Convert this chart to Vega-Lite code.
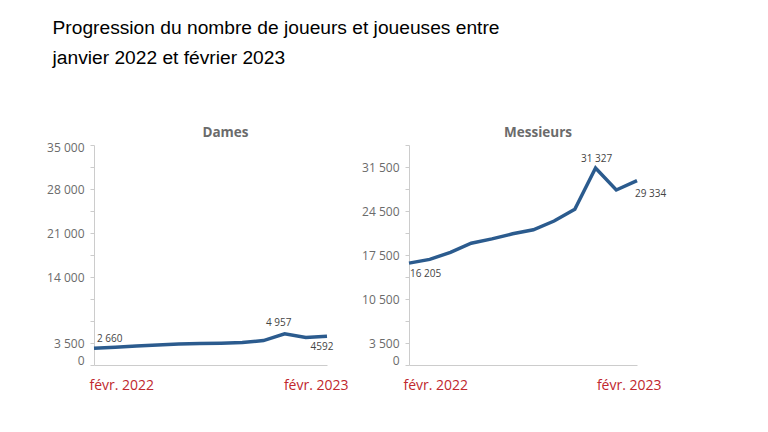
{
  "$schema": "https://vega.github.io/schema/vega-lite/v6.json",
  "background": "white",
  "padding": {"left": 46, "top": 18, "right": 5, "bottom": 5},
  "title": {
    "text": ["Progression du nombre de joueurs et joueuses entre", "janvier 2022 et février 2023"],
    "anchor": "start",
    "frame": "bounds",
    "font": "Liberation Sans",
    "fontSize": 19.2,
    "fontWeight": "normal",
    "color": "#000000",
    "lineHeight": 30,
    "offset": 58,
    "dx": 6
  },
  "datasets": {
    "d": [
      {"serie": "Dames", "m": 0, "mois": "févr. 2022", "joueurs": 2660, "label": "2 660"},
      {"serie": "Dames", "m": 1, "mois": "mars 2022", "joueurs": 2830},
      {"serie": "Dames", "m": 2, "mois": "avr. 2022", "joueurs": 3040},
      {"serie": "Dames", "m": 3, "mois": "mai 2022", "joueurs": 3200},
      {"serie": "Dames", "m": 4, "mois": "juin 2022", "joueurs": 3360},
      {"serie": "Dames", "m": 5, "mois": "juil. 2022", "joueurs": 3410},
      {"serie": "Dames", "m": 6, "mois": "août 2022", "joueurs": 3460},
      {"serie": "Dames", "m": 7, "mois": "sept. 2022", "joueurs": 3570},
      {"serie": "Dames", "m": 8, "mois": "oct. 2022", "joueurs": 3890},
      {"serie": "Dames", "m": 9, "mois": "nov. 2022", "joueurs": 4957, "label": "4 957"},
      {"serie": "Dames", "m": 10, "mois": "déc. 2022", "joueurs": 4360},
      {"serie": "Dames", "m": 11, "mois": "févr. 2023", "joueurs": 4592, "label": "4592"},
      {"serie": "Messieurs", "m": 0, "mois": "févr. 2022", "joueurs": 16205, "label": "16 205"},
      {"serie": "Messieurs", "m": 1, "mois": "mars 2022", "joueurs": 16800},
      {"serie": "Messieurs", "m": 2, "mois": "avr. 2022", "joueurs": 17920},
      {"serie": "Messieurs", "m": 3, "mois": "mai 2022", "joueurs": 19370},
      {"serie": "Messieurs", "m": 4, "mois": "juin 2022", "joueurs": 20060},
      {"serie": "Messieurs", "m": 5, "mois": "juil. 2022", "joueurs": 20870},
      {"serie": "Messieurs", "m": 6, "mois": "août 2022", "joueurs": 21510},
      {"serie": "Messieurs", "m": 7, "mois": "sept. 2022", "joueurs": 22910},
      {"serie": "Messieurs", "m": 8, "mois": "oct. 2022", "joueurs": 24780},
      {"serie": "Messieurs", "m": 9, "mois": "nov. 2022", "joueurs": 31327, "label": "31 327"},
      {"serie": "Messieurs", "m": 10, "mois": "déc. 2022", "joueurs": 27840},
      {"serie": "Messieurs", "m": 11, "mois": "févr. 2023", "joueurs": 29334, "label": "29 334"}
    ]
  },
  "data": {"name": "d"},
  "spacing": 82,
  "bounds": "flush",
  "hconcat": [
    {
      "title": {"text": "Dames", "dx": 15},
      "width": 233,
      "height": 220,
      "transform": [{"filter": "datum.serie == 'Dames'"}],
      "encoding": {
        "x": {"field": "m", "type": "quantitative", "scale": {"domain": [0, 11], "nice": false, "zero": false},
          "axis": {"values": [0, 11], "labelExpr": "datum.value == 0 ? 'févr. 2022' : 'févr. 2023'", "labelOffset": 8, "labelFlushOffset": 13}},
        "y": {"field": "joueurs", "type": "quantitative", "scale": {"domain": [0, 35000], "nice": false},
          "axis": {"values": [0, 3500, 7000, 10500, 14000, 17500, 21000, 24500, 28000, 31500, 35000],
            "labelExpr": "(datum.value == 0 || datum.value == 3500 || datum.value == 14000 || datum.value == 21000 || datum.value == 28000 || datum.value == 35000) ? (datum.value >= 1000 ? floor(datum.value / 1000) + ' ' + format(datum.value % 1000, '03d') : '' + datum.value) : ''"}}
      },
      "layer": [
        {"mark": {"type": "line", "color": "#2b5b8e", "strokeWidth": 3.5}},
        {"transform": [{"filter": "datum.m == 0"}], "mark": {"type": "text", "align": "left", "dx": 3, "dy": -9}, "encoding": {"text": {"field": "label"}}},
        {"transform": [{"filter": "datum.m == 9"}], "mark": {"type": "text", "align": "center", "dx": -6, "dy": -11}, "encoding": {"text": {"field": "label"}}},
        {"transform": [{"filter": "datum.m == 11"}], "mark": {"type": "text", "align": "center", "dx": -5, "dy": 11}, "encoding": {"text": {"field": "label"}}}
      ]
    },
    {
      "title": {"text": "Messieurs", "dx": 15},
      "width": 228,
      "height": 220,
      "transform": [{"filter": "datum.serie == 'Messieurs'"}],
      "encoding": {
        "x": {"field": "m", "type": "quantitative", "scale": {"domain": [0, 11], "nice": false, "zero": false},
          "axis": {"values": [0, 11], "labelExpr": "datum.value == 0 ? 'févr. 2022' : 'févr. 2023'", "labelOffset": 9, "labelFlushOffset": 15}},
        "y": {"field": "joueurs", "type": "quantitative", "scale": {"domain": [0, 35000], "nice": false},
          "axis": {"values": [0, 3500, 7000, 10500, 14000, 17500, 21000, 24500, 28000, 31500, 35000],
            "labelExpr": "(datum.value == 0 || datum.value == 3500 || datum.value == 10500 || datum.value == 17500 || datum.value == 24500 || datum.value == 31500) ? (datum.value >= 1000 ? floor(datum.value / 1000) + ' ' + format(datum.value % 1000, '03d') : '' + datum.value) : ''"}}
      },
      "layer": [
        {"mark": {"type": "line", "color": "#2b5b8e", "strokeWidth": 3.5}},
        {"transform": [{"filter": "datum.m == 0"}], "mark": {"type": "text", "align": "left", "dx": 1, "dy": 11}, "encoding": {"text": {"field": "label"}}},
        {"transform": [{"filter": "datum.m == 9"}], "mark": {"type": "text", "align": "center", "dx": 1, "dy": -9}, "encoding": {"text": {"field": "label"}}},
        {"transform": [{"filter": "datum.m == 11"}], "mark": {"type": "text", "align": "left", "dx": -2, "dy": 13}, "encoding": {"text": {"field": "label"}}}
      ]
    }
  ],
  "config": {
    "font": "Open Sans",
    "view": {"stroke": null},
    "title": {"font": "Open Sans", "fontSize": 13.5, "fontWeight": "bold", "color": "#6b6b6b", "offset": 2},
    "text": {"font": "Open Sans", "fontSize": 10, "color": "#444444"},
    "axis": {"title": null, "grid": false, "domainColor": "#cccccc", "tickColor": "#cccccc", "labelFont": "Open Sans", "labelOverlap": false},
    "axisY": {"tickSize": 4, "labelPadding": 6, "labelFontSize": 12, "labelColor": "#6b6b6b", "labelFlush": true, "labelFlushOffset": 2.5},
    "axisX": {"ticks": false, "labelPadding": 13, "labelFontSize": 14, "labelColor": "#c0272d", "labelFlush": true}
  }
}
